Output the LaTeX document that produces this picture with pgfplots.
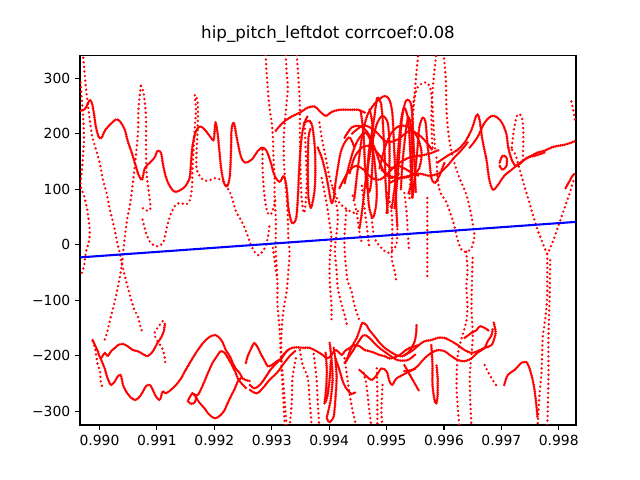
\documentclass[border=0pt]{standalone}
\usepackage{fontspec}
\setmainfont{DejaVu Sans}
\usepackage{pgfplots}
\pgfplotsset{compat=1.18}
\pgfplotsset{
 rd/.style={red, line width=2.0pt, line cap=round, dash pattern=on 0pt off 1.3pt, smooth},
 dt/.style={red, line width=1.9pt, line cap=round, dash pattern=on 0pt off 3.3pt, smooth}
}
\begin{document}
\begin{tikzpicture}
\useasboundingbox (0,0) rectangle (460.8pt,345.6pt);
\begin{axis}[
 scale only axis, width=357.12pt, height=266.11pt,
 at={(57.6pt,39.6pt)}, anchor=south west,
 xmin=0.98966, xmax=0.99830, ymin=-325, ymax=341,
 xtick={0.990,0.991,0.992,0.993,0.994,0.995,0.996,0.997,0.998},
 xticklabels={0.990,0.991,0.992,0.993,0.994,0.995,0.996,0.997,0.998},
 ytick={-300,-200,-100,0,100,200,300},
 yticklabels={−300,−200,−100,0,100,200,300},
 scaled x ticks=false, scaled y ticks=false,
 tick pos=left, tick align=outside, major tick length=3.5pt,
 tick style={black, line width=0.8pt},
 axis line style={line width=0.8pt},
 tick label style={font=\fontsize{10}{12}\selectfont},
 title={hip\_pitch\_leftdot corrcoef:0.08},
 title style={font=\fontsize{12}{14}\selectfont, at={(0.5,1)}, anchor=base, yshift=6pt},
]
% ---------- upper band ----------
\addplot[rd] coordinates {(0.98966,241)(0.98973,243)(0.98978,250)(0.98983,261)(0.98987,254)(0.98990,238)(0.98994,211)(0.98999,193)(0.99004,193)(0.99009,205)(0.99018,216)(0.99028,225)(0.99035,223)(0.99044,207)(0.99049,187)(0.99056,166)(0.99063,142)(0.99068,126)(0.99074,117)(0.99079,138)(0.99088,148)(0.99096,157)(0.99101,169)(0.99107,166)(0.99110,148)(0.99115,124)(0.99122,106)(0.99131,95)(0.99142,99)(0.99150,106)(0.99157,120)(0.99159,142)(0.99162,178)(0.99168,205)(0.99176,213)(0.99185,205)(0.99194,193)(0.99199,189)(0.99202,220)(0.99206,198)(0.99209,166)(0.99213,129)(0.99218,108)(0.99223,106)(0.99227,124)(0.99229,166)(0.99230,207)(0.99234,220)(0.99239,193)(0.99246,160)(0.99253,148)(0.99265,153)(0.99276,169)(0.99284,175)(0.99291,169)(0.99298,149)(0.99305,124)(0.99314,113)(0.99321,124)(0.99326,102)(0.99329,66)(0.99335,39)(0.99342,45)(0.99345,75)(0.99347,120)(0.99349,157)(0.99352,193)(0.99357,220)(0.99363,232)};
\addplot[rd] coordinates {(0.99307,205)(0.99314,214)(0.99323,223)(0.99335,231)(0.99349,238)(0.99363,247)(0.99375,249)(0.99383,241)(0.99394,232)(0.99404,239)(0.99418,243)(0.99436,243)(0.99450,243)(0.99462,238)};
\addplot[dt] coordinates {(0.98967,292)(0.98969,265)(0.98971,238)(0.98973,193)(0.98971,157)(0.98969,129)(0.98967,106)(0.98973,88)(0.98978,66)(0.98981,45)(0.98983,21)(0.98981,3)(0.98976,-15)(0.98974,-33)(0.98971,-46)(0.98967,-56)};
\addplot[dt] coordinates {(0.98971,345)(0.98974,310)(0.98976,286)(0.98980,250)(0.98983,225)(0.98987,196)(0.98994,171)(0.99001,144)(0.99006,117)(0.99013,90)(0.99018,63)(0.99025,34)(0.99030,8)(0.99035,-15)(0.99039,-35)(0.99046,-64)(0.99051,-84)(0.99056,-102)(0.99061,-118)(0.99067,-130)(0.99070,-143)(0.99074,-156)};
\addplot[dt] coordinates {(0.99072,286)(0.99068,247)(0.99067,202)(0.99063,157)(0.99058,111)(0.99053,71)(0.99048,45)(0.99044,12)(0.99041,-15)(0.99039,-35)(0.99034,-66)(0.99027,-100)(0.99020,-129)(0.99013,-159)(0.99007,-177)};
\addplot[dt] coordinates {(0.99072,286)(0.99077,272)(0.99081,229)(0.99081,175)(0.99082,129)(0.99086,93)(0.99089,66)(0.99084,61)(0.99075,66)};
\addplot[dt] coordinates {(0.99075,45)(0.99081,21)(0.99088,5)(0.99096,-2)(0.99105,-2)(0.99112,7)(0.99117,30)(0.99124,55)(0.99133,72)(0.99142,75)(0.99150,72)(0.99157,79)(0.99161,102)(0.99162,138)(0.99164,175)(0.99166,211)(0.99168,243)(0.99166,270)(0.99171,256)(0.99171,211)(0.99169,166)(0.99169,138)(0.99173,126)(0.99183,115)(0.99194,117)(0.99202,120)(0.99211,117)(0.99218,111)(0.99223,102)(0.99229,90)(0.99234,72)(0.99239,57)(0.99246,45)(0.99253,30)(0.99258,16)(0.99263,1)(0.99270,-13)(0.99276,-19)(0.99282,-15)(0.99288,-6)(0.99293,12)(0.99296,34)};
\addplot[dt] coordinates {(0.99284,171)(0.99284,138)(0.99286,102)(0.99289,75)(0.99293,57)(0.99298,54)(0.99303,66)(0.99307,84)};
\addplot[dt] coordinates {(0.99289,350)(0.99291,310)(0.99293,283)(0.99296,247)(0.99300,220)(0.99302,193)(0.99303,157)(0.99305,120)(0.99305,84)(0.99307,48)(0.99307,12)(0.99307,-15)(0.99309,-47)(0.99310,-78)(0.99310,-109)(0.99314,-156)(0.99316,-205)(0.99319,-259)(0.99323,-330)};
\addplot[dt] coordinates {(0.99324,350)(0.99326,310)(0.99328,283)(0.99326,256)(0.99323,225)(0.99321,193)(0.99321,157)(0.99323,120)(0.99326,84)(0.99328,48)(0.99329,12)(0.99331,-15)(0.99329,-47)(0.99326,-84)(0.99321,-114)(0.99317,-156)(0.99317,-205)(0.99321,-259)(0.99326,-330)};
\addplot[dt] coordinates {(0.99343,350)(0.99347,292)(0.99349,247)(0.99349,193)(0.99350,138)(0.99352,84)(0.99356,57)(0.99359,75)(0.99361,120)(0.99359,175)(0.99357,220)};
\addplot[dt] coordinates {(0.99302,-6)(0.99305,-28)(0.99309,-60)};
\addplot[rd] coordinates {(0.99357,220)(0.99366,223)(0.99371,211)(0.99375,175)(0.99376,138)(0.99375,102)(0.99371,75)(0.99368,66)(0.99364,84)(0.99363,120)(0.99363,157)(0.99364,193)(0.99368,211)};
\addplot[rd] coordinates {(0.99380,175)(0.99387,157)(0.99394,129)(0.99399,102)(0.99404,75)(0.99408,84)(0.99411,111)(0.99415,138)(0.99420,166)(0.99427,184)(0.99436,193)(0.99444,175)};
\addplot[dt] coordinates {(0.99383,220)(0.99387,193)(0.99394,157)(0.99401,120)(0.99410,93)(0.99418,75)(0.99432,63)(0.99444,57)(0.99453,63)};
\addplot[dt] coordinates {(0.99387,120)(0.99396,72)(0.99401,36)(0.99404,12)(0.99401,-29)(0.99401,-65)(0.99404,-109)(0.99404,-138)};
\addplot[dt] coordinates {(0.99406,102)(0.99415,57)(0.99413,21)(0.99410,-11)(0.99413,-47)(0.99415,-78)(0.99422,-109)(0.99427,-127)(0.99432,-150)};
\addplot[dt] coordinates {(0.99430,61)(0.99427,21)(0.99427,-11)(0.99430,-47)(0.99432,-65)(0.99439,-84)(0.99444,-109)(0.99453,-138)};
% dense centre
\addplot[rd] coordinates {(0.99427,111)(0.99436,148)(0.99444,175)(0.99453,193)(0.99462,202)(0.99470,193)(0.99477,166)(0.99481,129)(0.99483,93)(0.99481,66)(0.99476,48)(0.99470,66)(0.99467,102)(0.99467,138)(0.99470,175)(0.99476,211)(0.99481,247)(0.99484,265)(0.99490,256)(0.99493,229)(0.99495,193)(0.99497,157)(0.99498,120)(0.99500,84)(0.99502,57)};
\addplot[rd] coordinates {(0.99436,129)(0.99444,157)(0.99457,175)(0.99470,178)(0.99484,166)(0.99497,148)(0.99509,138)(0.99523,148)(0.99540,157)(0.99557,160)(0.99575,164)(0.99592,171)};
\addplot[rd] coordinates {(0.99509,66)(0.99514,102)(0.99519,157)(0.99523,202)(0.99526,229)(0.99531,247)(0.99537,229)(0.99540,193)(0.99542,148)(0.99544,111)(0.99545,84)(0.99549,120)(0.99554,175)(0.99557,211)(0.99563,229)(0.99568,220)(0.99571,184)(0.99575,148)(0.99578,120)(0.99584,111)(0.99592,124)(0.99601,148)};
\addplot[rd] coordinates {(0.99488,138)(0.99497,175)(0.99509,202)(0.99523,214)(0.99540,211)(0.99554,193)(0.99561,166)(0.99557,138)(0.99544,124)(0.99523,120)(0.99505,124)(0.99491,135)};
\addplot[rd] coordinates {(0.99444,84)(0.99450,138)(0.99457,193)(0.99465,229)(0.99474,247)(0.99484,259)(0.99497,268)(0.99505,261)(0.99510,238)(0.99512,202)(0.99514,157)(0.99516,111)(0.99517,66)(0.99519,30)};
\addplot[rd] coordinates {(0.99453,30)(0.99458,66)(0.99463,111)(0.99470,157)(0.99477,193)(0.99484,220)(0.99493,232)(0.99502,220)(0.99505,184)(0.99505,138)(0.99504,93)(0.99500,57)};
\addplot[rd] coordinates {(0.99514,66)(0.99519,120)(0.99523,175)(0.99526,220)(0.99530,247)(0.99535,261)(0.99542,256)(0.99545,229)(0.99547,184)(0.99549,138)(0.99551,93)};
\addplot[rd] coordinates {(0.99418,102)(0.99432,129)(0.99446,142)(0.99460,135)(0.99474,120)(0.99488,117)(0.99502,128)(0.99516,142)(0.99530,138)(0.99544,129)(0.99557,124)};
\addplot[rd] coordinates {(0.99427,193)(0.99439,211)(0.99453,214)(0.99467,202)(0.99479,175)(0.99488,148)(0.99497,129)(0.99509,120)(0.99523,129)};
\addplot[rd] coordinates {(0.99455,240)(0.99460,200)(0.99462,150)(0.99465,110)(0.99470,95)(0.99474,120)(0.99476,170)(0.99475,220)(0.99470,245)};
\addplot[rd] coordinates {(0.99525,100)(0.99528,150)(0.99533,200)(0.99538,230)(0.99543,210)(0.99545,160)(0.99543,110)(0.99537,90)};
\addplot[rd] coordinates {(0.99440,200)(0.99460,215)(0.99480,205)(0.99500,185)(0.99520,190)(0.99540,205)(0.99560,195)(0.99580,170)};
\addplot[dt] coordinates {(0.99441,88)(0.99448,57)(0.99453,21)(0.99457,3)};
\addplot[dt] coordinates {(0.99457,106)(0.99462,63)(0.99467,21)(0.99470,-6)};
\addplot[dt] coordinates {(0.99474,48)(0.99479,12)(0.99491,-6)(0.99502,-15)(0.99510,-10)(0.99517,-1)(0.99519,30)};
\addplot[dt] coordinates {(0.99502,93)(0.99509,57)(0.99510,21)(0.99509,-24)(0.99514,-47)(0.99517,-65)};
\addplot[dt] coordinates {(0.99531,93)(0.99535,57)(0.99537,21)(0.99539,-6)};
\addplot[dt] coordinates {(0.99571,84)(0.99571,12)(0.99571,-19)(0.99571,-60)};
\addplot[dt] coordinates {(0.99540,84)(0.99542,138)(0.99544,193)(0.99545,238)(0.99549,274)(0.99552,310)(0.99556,350)};
\addplot[dt] coordinates {(0.99545,202)(0.99547,247)(0.99552,279)(0.99561,290)(0.99570,292)(0.99577,279)(0.99580,247)(0.99582,211)(0.99585,166)};
\addplot[dt] coordinates {(0.99580,175)(0.99578,229)(0.99580,274)(0.99584,319)(0.99587,344)(0.99594,351)(0.99599,344)(0.99603,301)(0.99604,256)(0.99606,220)(0.99610,184)(0.99618,148)(0.99627,120)(0.99638,93)(0.99645,66)(0.99650,39)(0.99653,16)(0.99648,-6)(0.99639,-13)(0.99631,-10)(0.99624,8)(0.99618,34)(0.99611,57)(0.99603,79)(0.99594,93)(0.99589,117)(0.99587,157)};
\addplot[dt] coordinates {(0.99639,-13)(0.99641,-47)(0.99639,-78)(0.99641,-109)(0.99639,-138)(0.99631,-168)(0.99624,-199)(0.99622,-259)(0.99627,-330)};
\addplot[dt] coordinates {(0.99650,-24)(0.99648,-109)(0.99650,-168)(0.99645,-241)(0.99648,-330)};
% right part of upper band
\addplot[rd] coordinates {(0.99505,111)(0.99523,120)(0.99540,124)(0.99557,128)(0.99575,124)(0.99592,129)(0.99606,142)(0.99618,157)(0.99631,171)(0.99641,184)};
\addplot[rd] coordinates {(0.99589,148)(0.99606,160)(0.99624,171)(0.99636,184)(0.99648,207)(0.99657,234)(0.99662,225)(0.99667,189)(0.99674,153)(0.99679,117)(0.99685,99)(0.99693,106)(0.99705,124)(0.99718,135)(0.99728,144)(0.99740,153)(0.99752,160)(0.99763,166)(0.99775,169)(0.99787,175)(0.99798,178)(0.99810,180)(0.99822,184)(0.99829,187)};
\addplot[rd] coordinates {(0.99645,175)(0.99658,193)(0.99671,220)(0.99683,232)(0.99693,229)(0.99702,218)(0.99709,198)(0.99712,175)(0.99718,153)(0.99725,142)(0.99735,148)(0.99745,157)(0.99758,160)(0.99775,166)};
\addplot[rd] coordinates {(0.99697,148)(0.99702,160)(0.99709,157)(0.99709,142)(0.99702,135)(0.99697,142)};
\addplot[dt] coordinates {(0.99718,175)(0.99723,214)(0.99728,234)(0.99735,232)(0.99738,211)(0.99738,175)(0.99737,148)};
\addplot[dt] coordinates {(0.99712,175)(0.99723,166)(0.99732,135)(0.99740,106)(0.99749,75)(0.99754,57)(0.99763,27)(0.99770,8)(0.99777,-10)(0.99780,-17)(0.99785,-6)(0.99792,12)(0.99801,39)(0.99810,66)(0.99819,93)(0.99826,117)};
\addplot[dt] coordinates {(0.99780,-17)(0.99780,-47)(0.99780,-78)(0.99779,-109)(0.99775,-145)(0.99772,-168)(0.99770,-228)(0.99766,-277)(0.99763,-330)};
\addplot[dt] coordinates {(0.99785,-28)(0.99784,-96)(0.99782,-168)(0.99782,-241)(0.99780,-330)};
\addplot[rd] coordinates {(0.99812,102)(0.99819,115)(0.99824,124)(0.99829,129)};
\addplot[dt] coordinates {(0.99822,258)(0.99826,238)(0.99829,220)};
% ---------- lower band ----------
\addplot[rd] coordinates {(0.98988,-172)(0.98992,-181)(0.98997,-192)(0.99002,-205)(0.99009,-195)(0.99014,-201)(0.99020,-192)(0.99027,-186)(0.99032,-181)(0.99041,-179)(0.99049,-183)(0.99058,-190)(0.99067,-192)(0.99075,-197)(0.99084,-201)(0.99093,-192)(0.99101,-177)(0.99107,-168)(0.99112,-156)(0.99114,-141)};
\addplot[dt] coordinates {(0.99110,-138)(0.99096,-159)(0.99101,-174)(0.99109,-186)(0.99114,-205)(0.99114,-217)};
\addplot[dt] coordinates {(0.98988,-174)(0.98992,-186)(0.98994,-199)(0.98997,-217)(0.99001,-228)(0.99002,-246)(0.99006,-259)};
\addplot[rd] coordinates {(0.99002,-205)(0.99009,-223)(0.99014,-241)(0.99020,-253)(0.99027,-246)(0.99032,-237)(0.99037,-235)(0.99041,-253)(0.99046,-264)(0.99054,-275)(0.99063,-280)(0.99072,-271)(0.99081,-255)(0.99088,-253)(0.99093,-262)(0.99098,-273)(0.99105,-280)(0.99110,-264)(0.99115,-268)(0.99124,-262)(0.99133,-253)(0.99142,-241)(0.99150,-226)(0.99159,-210)(0.99168,-195)(0.99176,-183)(0.99185,-172)(0.99194,-165)(0.99202,-163)(0.99209,-168)(0.99215,-177)(0.99220,-190)(0.99227,-201)(0.99232,-213)(0.99237,-223)(0.99244,-231)(0.99249,-241)(0.99255,-244)(0.99262,-246)};
\addplot[rd] coordinates {(0.99154,-282)(0.99157,-275)(0.99162,-268)(0.99168,-275)(0.99166,-284)(0.99159,-287)(0.99154,-282)};
\addplot[rd] coordinates {(0.99162,-268)(0.99171,-271)(0.99180,-253)(0.99189,-231)(0.99197,-213)(0.99206,-199)(0.99211,-192)(0.99218,-195)(0.99227,-210)(0.99236,-228)(0.99241,-241)(0.99248,-251)(0.99256,-259)};
\addplot[rd] coordinates {(0.99168,-275)(0.99175,-286)(0.99183,-295)(0.99189,-304)(0.99194,-309)(0.99202,-313)(0.99211,-307)(0.99218,-298)(0.99223,-286)(0.99229,-273)(0.99236,-259)(0.99241,-246)(0.99246,-241)};
\addplot[rd] coordinates {(0.99255,-213)(0.99258,-201)(0.99262,-192)(0.99267,-181)(0.99270,-177)(0.99276,-186)(0.99282,-199)(0.99288,-210)(0.99293,-219)(0.99300,-217)(0.99309,-210)(0.99317,-205)(0.99326,-192)(0.99335,-186)(0.99343,-185)(0.99354,-186)(0.99366,-186)(0.99378,-192)(0.99389,-199)(0.99397,-205)(0.99404,-199)(0.99410,-190)(0.99415,-192)(0.99422,-199)(0.99427,-192)(0.99436,-186)(0.99444,-181)(0.99453,-183)(0.99462,-190)(0.99470,-192)(0.99479,-195)(0.99488,-199)(0.99497,-201)(0.99505,-205)(0.99514,-203)(0.99523,-199)(0.99531,-192)(0.99540,-186)(0.99549,-183)(0.99557,-181)};
\addplot[rd] coordinates {(0.99262,-253)(0.99270,-259)(0.99279,-253)(0.99288,-241)(0.99296,-228)(0.99305,-217)(0.99314,-208)(0.99323,-195)(0.99331,-188)};
\addplot[rd] coordinates {(0.99262,-262)(0.99274,-268)(0.99284,-259)(0.99296,-244)(0.99309,-231)(0.99319,-217)(0.99331,-201)(0.99343,-190)};
\addplot[rd] coordinates {(0.99430,-210)(0.99436,-192)(0.99441,-181)(0.99448,-168)(0.99453,-154)(0.99458,-141)(0.99465,-145)(0.99470,-154)(0.99479,-165)(0.99488,-177)(0.99497,-186)(0.99505,-192)(0.99517,-199)(0.99528,-201)(0.99540,-192)(0.99549,-174)(0.99552,-156)(0.99552,-145)};
\addplot[rd] coordinates {(0.99427,-213)(0.99439,-195)(0.99450,-177)(0.99460,-163)(0.99470,-168)(0.99484,-183)(0.99502,-197)(0.99519,-208)(0.99537,-208)(0.99551,-197)};
\addplot[rd] coordinates {(0.99453,-226)(0.99465,-237)(0.99474,-244)(0.99483,-235)(0.99491,-223)(0.99500,-228)(0.99505,-246)(0.99510,-253)(0.99517,-241)(0.99528,-235)(0.99540,-228)(0.99552,-223)};
\addplot[rd] coordinates {(0.99401,-177)(0.99404,-205)(0.99406,-241)(0.99403,-277)(0.99399,-298)(0.99396,-313)(0.99401,-320)(0.99408,-309)(0.99411,-277)(0.99413,-241)(0.99411,-208)(0.99408,-186)};
\addplot[rd] coordinates {(0.99394,-195)(0.99396,-231)(0.99394,-268)(0.99392,-286)(0.99397,-273)(0.99401,-241)(0.99403,-208)};
\addplot[rd] coordinates {(0.99411,-205)(0.99418,-226)(0.99425,-250)(0.99432,-262)(0.99439,-269)(0.99446,-266)};
\addplot[dt] coordinates {(0.99342,-205)(0.99336,-241)(0.99335,-282)(0.99331,-330)};
\addplot[dt] coordinates {(0.99349,-190)(0.99354,-217)(0.99363,-241)(0.99366,-282)(0.99370,-330)};
\addplot[dt] coordinates {(0.99373,-197)(0.99378,-241)(0.99380,-282)(0.99383,-330)};
\addplot[dt] coordinates {(0.99427,-205)(0.99430,-228)(0.99436,-271)(0.99441,-300)(0.99448,-330)};
\addplot[dt] coordinates {(0.99460,-231)(0.99465,-253)(0.99470,-300)(0.99474,-330)};
\addplot[dt] coordinates {(0.99483,-223)(0.99484,-271)(0.99484,-330)};
\addplot[dt] coordinates {(0.99493,-253)(0.99491,-300)(0.99493,-330)};
\addplot[rd] coordinates {(0.99531,-199)(0.99544,-192)(0.99554,-183)(0.99566,-174)(0.99578,-172)(0.99589,-168)(0.99601,-168)(0.99613,-174)(0.99624,-181)(0.99636,-190)(0.99648,-195)(0.99658,-192)(0.99671,-186)(0.99683,-181)(0.99688,-168)(0.99690,-156)(0.99686,-138)};
\addplot[rd] coordinates {(0.99531,-228)(0.99544,-226)(0.99554,-219)(0.99566,-205)(0.99578,-195)(0.99589,-190)(0.99601,-192)(0.99613,-201)(0.99624,-208)(0.99636,-210)(0.99648,-205)(0.99658,-195)(0.99671,-186)(0.99676,-174)(0.99683,-163)(0.99685,-150)};
\addplot[rd] coordinates {(0.99578,-181)(0.99580,-217)(0.99580,-253)(0.99584,-282)(0.99587,-286)(0.99589,-271)(0.99589,-241)(0.99587,-217)};
\addplot[rd] coordinates {(0.99531,-217)(0.99544,-241)(0.99554,-259)(0.99557,-264)};
\addplot[rd] coordinates {(0.99636,-168)(0.99648,-159)(0.99657,-154)(0.99662,-147)(0.99671,-150)(0.99679,-156)};
\addplot[dt] coordinates {(0.99671,-217)(0.99676,-228)(0.99683,-241)(0.99692,-255)};
\addplot[rd] coordinates {(0.99705,-253)(0.99711,-235)(0.99723,-226)(0.99735,-213)(0.99744,-212)(0.99749,-223)(0.99754,-241)(0.99758,-264)(0.99761,-289)(0.99763,-313)};
% ---------- fit line ----------
\addplot[blue, line width=1.5pt] coordinates {(0.98966,-23)(0.99830,41)};
\end{axis}
\end{tikzpicture}
\end{document}
